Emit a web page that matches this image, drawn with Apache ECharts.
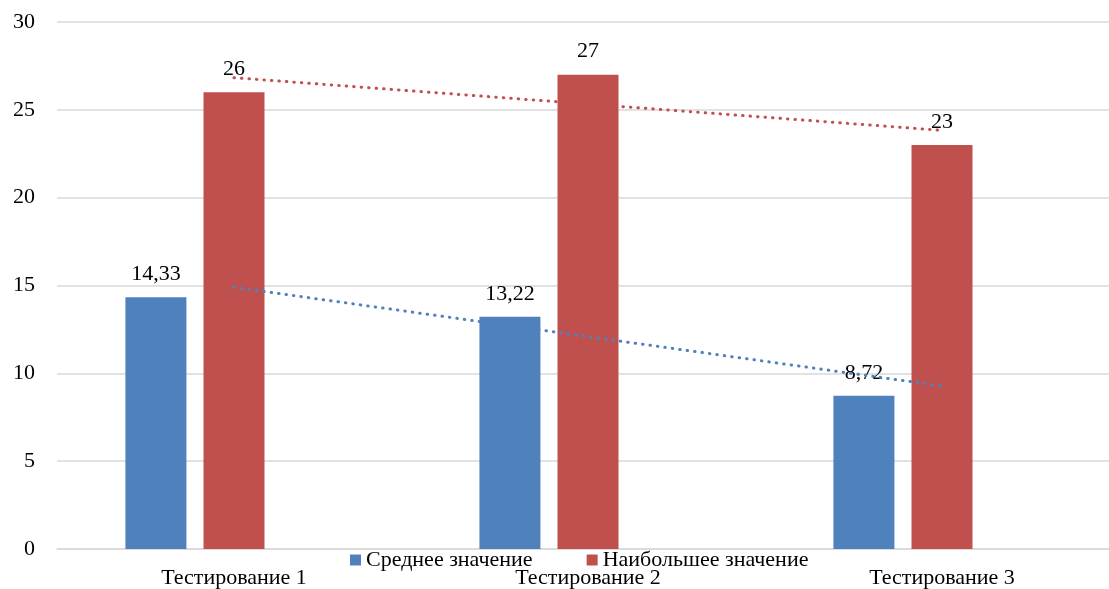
<!DOCTYPE html>
<html>
<head>
<meta charset="utf-8">
<script src="https://cdn.jsdelivr.net/npm/echarts@6/dist/echarts.min.js"></script>
<style>
  html, body { margin: 0; padding: 0; background: #fff; overflow: hidden; }
  #chart { width: 1125px; height: 589px; }
</style>
</head>
<body>
<div id="chart"></div>
<script>
// Test rounds on the category axis
const categories = ['Тестирование 1', 'Тестирование 2', 'Тестирование 3'];
// Average score per round
const averageValues = [14.33, 13.22, 8.72];
// Highest score per round
const maxValues = [26, 27, 23];
// Linear trend lines (values at each round)
const averageTrend = [14.9, 12.09, 9.28];
const maxTrend = [26.83, 25.33, 23.83];
// Value axis ticks
const yMin = 0, yMax = 30, yStep = 5;

const serif = '"Liberation Serif", "DejaVu Serif", serif';
const blue = '#4F81BD';
const red = '#C0504D';
const fs = 22;

const chart = echarts.init(document.getElementById('chart'));
const labelFmt = p => String(p.value).replace('.', ',');

chart.setOption({
  animation: false,
  textStyle: { fontFamily: serif },
  grid: { left: 57, right: 6, top: 22, bottom: 39, containLabel: false },
  legend: {
    data: ['Среднее значение', 'Наибольшее значение'],
    left: 345,
    top: 544,
    itemWidth: 11,
    itemHeight: 11,
    itemGap: 54,
    icon: 'rect',
    textStyle: { fontFamily: serif, fontSize: fs, color: '#000' }
  },
  xAxis: {
    type: 'category',
    data: categories,
    axisLine: { lineStyle: { color: '#d9d9d9', width: 1.5 } },
    axisTick: { show: false },
    axisLabel: { color: '#000', fontSize: fs, fontFamily: serif, margin: 18 }
  },
  yAxis: {
    type: 'value',
    min: yMin, max: yMax, interval: yStep,
    axisLine: { show: false },
    axisTick: { show: false },
    axisLabel: { color: '#000', fontSize: fs, fontFamily: serif, margin: 22 },
    splitLine: { lineStyle: { color: '#d9d9d9', width: 1.5 } }
  },
  series: [
    {
      name: 'Среднее значение',
      type: 'bar',
      data: averageValues,
      barWidth: 61,
      barGap: '28%',
      itemStyle: { color: blue },
      label: { show: true, position: 'top', distance: 12, color: '#000', fontSize: fs, fontFamily: serif, formatter: labelFmt }
    },
    {
      name: 'Наибольшее значение',
      type: 'bar',
      data: maxValues,
      barWidth: 61,
      barGap: '28%',
      itemStyle: { color: red },
      label: { show: true, position: 'top', distance: 12, color: '#000', fontSize: fs, fontFamily: serif, formatter: labelFmt }
    },
    {
      // empty third slot keeps the bar group layout
      name: 'spacer',
      type: 'bar',
      data: categories.map(() => '-'),
      barWidth: 61,
      barGap: '28%',
      silent: true
    },
    {
      name: 'trendAvg',
      type: 'line',
      data: averageTrend,
      symbol: 'none',
      z: 5,
      lineStyle: { color: blue, width: 3, type: [0.5, 7], cap: 'round' }
    },
    {
      name: 'trendMax',
      type: 'line',
      data: maxTrend,
      symbol: 'none',
      z: 5,
      lineStyle: { color: red, width: 3, type: [0.5, 7], cap: 'round' }
    }
  ]
});
</script>
</body>
</html>
